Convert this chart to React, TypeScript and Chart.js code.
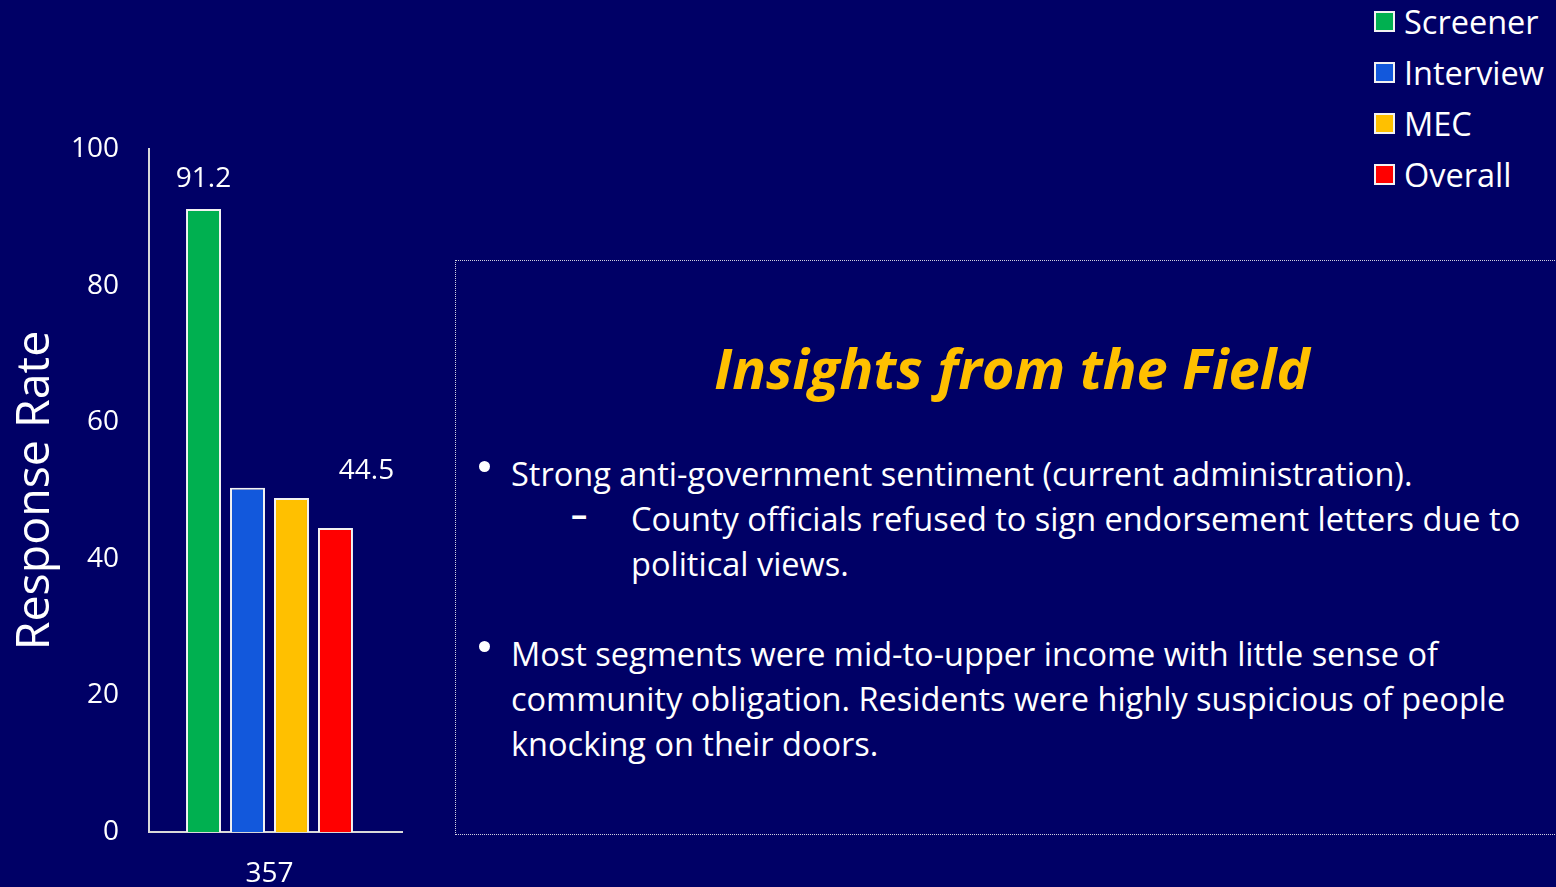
import React, { useEffect, useRef } from "react";
import { Chart, registerables } from "chart.js";

Chart.register(...registerables);

// ---- data ----
const categories = ["357"];
const seriesNames = ["Screener", "Interview", "MEC", "Overall"];
const screenerValues = [91.2];
const interviewValues = [50.4];
const mecValues = [48.9];
const overallValues = [44.5];
const seriesColors = ["#00B050", "#1258DC", "#FFC000", "#FF0000"];
const yMin = 0;
const yMax = 100;
const yStep = 20;
const yTitle = "Response Rate";
const labelledSeries = ["Screener", "Overall"];

const insightTitle = "Insights from the Field";
const bullet1 = ["Strong anti-government sentiment (current administration)."];
const bullet1Sub = ["County officials refused to sign endorsement letters due to", "political views."];
const bullet2 = [
  "Most segments were mid-to-upper income with little sense of",
  "community obligation. Residents were highly suspicious of people",
  "knocking on their doors.",
];

const BG = "#000066";
const FONT = "'Open Sans', Lato, sans-serif";
const AXIS_COLOR = "#d9d9d9";

const valueLabelPlugin = {
  id: "valueLabels",
  afterDatasetsDraw(chart: any, _args: any, opts: any) {
    const ctx = chart.ctx;
    ctx.save();
    ctx.fillStyle = "#ffffff";
    ctx.font = `28px ${FONT}`;
    ctx.textAlign = "center";
    ctx.textBaseline = "middle";
    chart.data.datasets.forEach((ds: any, i: number) => {
      if (!labelledSeries.includes(ds.label)) return;
      const meta = chart.getDatasetMeta(i);
      const off = (opts.offsets && opts.offsets[ds.label]) || [0, 20];
      meta.data.forEach((bar: any, j: number) => {
        ctx.fillText(String(ds.data[j]), bar.x + off[0], bar.y - off[1]);
      });
    });
    ctx.restore();
  },
};

// extends the bottom axis line a little past the plot area, as in the original slide
const axisExtendPlugin = {
  id: "axisExtend",
  afterDraw(chart: any, _args: any, opts: any) {
    const { ctx, chartArea } = chart;
    const extra = opts.extra || 0;
    ctx.save();
    ctx.strokeStyle = AXIS_COLOR;
    ctx.lineWidth = 2;
    ctx.beginPath();
    ctx.moveTo(chartArea.right - 1, chartArea.bottom);
    ctx.lineTo(chartArea.right + extra, chartArea.bottom);
    ctx.stroke();
    ctx.restore();
  },
};

function BarChart() {
  const ref = useRef<HTMLCanvasElement | null>(null);
  useEffect(() => {
    if (!ref.current) return;
    const valuesList = [screenerValues, interviewValues, mecValues, overallValues];
    const chart = new Chart(ref.current, {
      type: "bar",
      data: {
        labels: categories,
        datasets: seriesNames.map((name, i) => ({
          label: name,
          data: valuesList[i],
          backgroundColor: seriesColors[i],
          borderColor: "#f2f2f2",
          borderWidth: 2,
          borderSkipped: "bottom",
          barPercentage: 0.795,
          categoryPercentage: 0.73,
        })),
      },
      options: {
        responsive: false,
        animation: false,
        layout: { padding: { top: 149, left: 0, right: 30, bottom: 0 } },
        plugins: {
          legend: { display: false },
          tooltip: { enabled: false },
          valueLabels: { offsets: { Screener: [0, 30], Overall: [31, 57] } },
          axisExtend: { extra: 13 },
        } as any,
        scales: {
          x: {
            grid: { display: false, drawTicks: false },
            border: { display: true, color: AXIS_COLOR, width: 2 },
            ticks: { color: "#ffffff", font: { family: FONT, size: 28 }, padding: 25 },
            afterFit: (s: any) => {
              s.height = 55;
            },
          },
          y: {
            min: yMin,
            max: yMax,
            grid: { display: false, drawTicks: false },
            border: { display: true, color: AXIS_COLOR, width: 2 },
            ticks: { stepSize: yStep, color: "#ffffff", font: { family: FONT, size: 28 }, padding: 30 },
            title: {
              display: true,
              text: yTitle,
              color: "#ffffff",
              font: { family: FONT, size: 46.5 },
              padding: { top: 8, bottom: 0 },
            },
            afterFit: (s: any) => {
              s.width = 149;
            },
          },
        },
      },
      plugins: [valueLabelPlugin, axisExtendPlugin],
    });
    return () => chart.destroy();
  }, []);
  return (
    <canvas
      ref={ref}
      width={420}
      height={887}
      style={{ position: "absolute", left: 0, top: 0, width: 420, height: 887 }}
    />
  );
}

const bodyText: React.CSSProperties = {
  position: "absolute",
  color: "#ffffff",
  fontFamily: FONT,
  fontSize: 32.5,
  lineHeight: "45px",
  whiteSpace: "nowrap",
};

function Bullet({ top }: { top: number }) {
  return (
    <div
      style={{
        position: "absolute",
        left: 479,
        top: top,
        width: 11,
        height: 11,
        borderRadius: "50%",
        background: "#ffffff",
      }}
    />
  );
}

export default function App() {
  return (
    <div
      style={{
        position: "fixed",
        left: 0,
        top: 0,
        width: 1556,
        height: 887,
        background: BG,
        overflow: "hidden",
        fontFamily: FONT,
      }}
    >
      <BarChart />
      {/* legend */}
      <div style={{ position: "absolute", left: 1374, top: 0 }}>
        {seriesNames.map((name, i) => (
          <div
            key={name}
            style={{ position: "absolute", left: 0, top: 21 + i * 51 - 22, height: 44, display: "flex", alignItems: "center" }}
          >
            <div
              style={{
                width: 17,
                height: 17,
                background: seriesColors[i],
                border: "2px solid #f2f2f2",
                marginRight: 9,
              }}
            />
            <span style={{ color: "#ffffff", fontSize: 32.5, whiteSpace: "nowrap" }}>{name}</span>
          </div>
        ))}
      </div>
      {/* insight box */}
      <div
        style={{
          position: "absolute",
          left: 455,
          top: 260,
          width: 1114,
          height: 575,
          border: "1px dotted #d0d0e0",
          boxSizing: "border-box",
        }}
      />
      <div
        style={{
          position: "absolute",
          left: 455,
          width: 1114,
          top: 329,
          textAlign: "center",
          color: "#FFC000",
          fontWeight: 700,
          fontStyle: "italic",
          fontSize: 56,
          lineHeight: "76px",
        }}
      >
        {insightTitle}
      </div>
      <Bullet top={461} />
      {bullet1.map((t, i) => (
        <div key={"b1" + i} style={{ ...bodyText, left: 511, top: 451 + i * 45 }}>
          {t}
        </div>
      ))}
      <div style={{ ...bodyText, left: 571, top: 491, fontWeight: 700 }}>–</div>
      {bullet1Sub.map((t, i) => (
        <div key={"b1s" + i} style={{ ...bodyText, left: 631, top: 496 + i * 45 }}>
          {t}
        </div>
      ))}
      <Bullet top={641} />
      {bullet2.map((t, i) => (
        <div key={"b2" + i} style={{ ...bodyText, left: 511, top: 631 + i * 45 }}>
          {t}
        </div>
      ))}
    </div>
  );
}
